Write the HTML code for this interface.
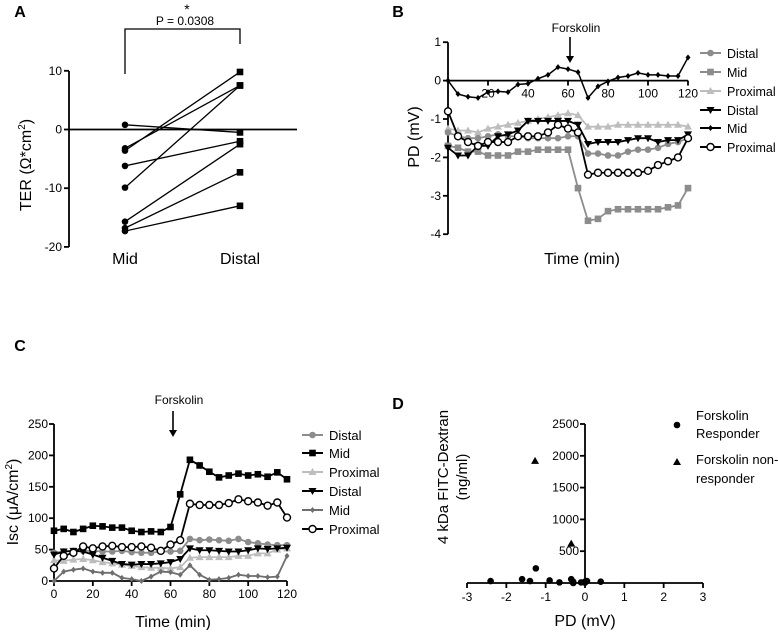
<!DOCTYPE html>
<html><head><meta charset="utf-8"><style>
body{margin:0;background:#fff;width:778px;height:630px;overflow:hidden}
svg{font-family:"Liberation Sans",sans-serif}
</style></head><body>
<svg id="fig" width="778" height="630" viewBox="0 0 778 630" xmlns="http://www.w3.org/2000/svg"></svg>
<script>
// ---- Panel A data ----
const aCats = ["Mid","Distal"];
const aMid = [0.8,-3.2,-3.6,-6.2,-9.9,-15.7,-16.8,-17.3];
const aDistal = [-0.5,7.5,9.8,-2,7.5,-2.5,-7.3,-13];
const aTicks = [10,0,-10,-20];
// ---- Panel B data ----
const bTimes = [0,5,10,15,20,25,30,35,40,45,50,55,60,65,70,75,80,85,90,95,100,105,110,115,120];
const bDistalGray = [-1.35,-1.45,-1.5,-1.5,-1.45,-1.4,-1.45,-1.45,-1.5,-1.5,-1.5,-1.5,-1.45,-1.45,-1.9,-1.9,-1.95,-1.95,-1.85,-1.8,-1.8,-1.75,-1.65,-1.6,-1.5];
const bMidGray = [-1.7,-1.75,-1.85,-1.85,-1.95,-1.95,-1.95,-1.85,-1.85,-1.8,-1.8,-1.8,-1.8,-2.8,-3.65,-3.6,-3.4,-3.35,-3.35,-3.35,-3.35,-3.35,-3.3,-3.25,-2.8];
const bProxLight = [-1.25,-1.3,-1.3,-1.35,-1.25,-1.2,-1.15,-1.1,-1.05,-1.0,-0.95,-0.9,-0.85,-0.9,-1.2,-1.2,-1.2,-1.15,-1.15,-1.15,-1.15,-1.15,-1.15,-1.15,-1.2];
const bDistalBlack = [-1.75,-1.95,-1.95,-1.7,-1.7,-1.45,-1.4,-1.3,-1.05,-1.05,-1.05,-1.05,-1.05,-1.15,-1.65,-1.6,-1.6,-1.6,-1.55,-1.5,-1.5,-1.6,-1.55,-1.55,-1.4];
const bMidBlack = [0,-0.35,-0.42,-0.45,-0.3,-0.28,-0.3,-0.1,-0.08,0.05,0.15,0.35,0.3,0.22,-0.45,-0.15,-0.02,0.08,0.12,0.2,0.15,0.15,0.12,0.12,0.6];
const bProxBlack = [-0.8,-1.45,-1.6,-1.7,-1.6,-1.6,-1.6,-1.45,-1.45,-1.45,-1.35,-1.15,-1.25,-1.35,-2.45,-2.4,-2.4,-2.4,-2.4,-2.4,-2.35,-2.2,-2.1,-2.0,-1.5];
const bYTicks = [1,0,-1,-2,-3,-4];
const bXTicks = [20,40,60,80,100,120];
// ---- Panel C data ----
const cTimes = [0,5,10,15,20,25,30,35,40,45,50,55,60,65,70,75,80,85,90,95,100,105,110,115,120];
const cDistalGray = [45,47,48,48,48,47,47,48,46,45,45,47,47,48,67,65,66,65,64,67,62,60,58,57,57];
const cMidBlack = [80,83,78,83,88,87,85,85,80,78,79,78,86,138,193,184,174,165,168,171,168,170,166,173,162];
const cProxLight = [33,32,34,35,33,30,28,26,24,22,21,21,20,22,37,38,38,38,38,40,40,44,44,50,52];
const cDistalBlack = [42,47,48,47,42,37,32,27,26,27,27,28,30,35,52,49,49,48,47,47,49,52,51,52,53];
const cMidGray = [0,15,18,20,15,13,13,5,3,0,7,15,14,10,25,10,2,3,5,10,8,8,6,7,40];
const cProxBlack = [20,40,45,55,52,55,56,54,54,55,53,48,58,65,123,121,121,121,124,130,127,125,120,125,101];
const cYTicks = [0,50,100,150,200,250];
const cXTicks = [0,20,40,60,80,100,120];
// ---- Panel D data ----
const dRespX = [-2.4,-1.6,-1.4,-1.25,-0.9,-0.65,-0.35,-0.3,-0.1,0.0,0.05,0.4,-0.3,0.0];
const dRespY = [30,60,30,230,40,10,60,20,10,20,30,20,0,5];
const dNonX = [-1.27,-0.35];
const dNonY = [1920,620];
const dXTicks = [-3,-2,-1,0,1,2,3];
const dYTicks = [500,1000,1500,2000,2500];

const svg = document.getElementById('fig');
const NS = 'http://www.w3.org/2000/svg';
function mk(tag, attrs, parent){const e=document.createElementNS(NS,tag);for(const k in attrs)e.setAttribute(k,attrs[k]);(parent||svg).appendChild(e);return e;}
function txt(s,x,y,size,anchor,parent,extra){const e=mk('text',Object.assign({x:x,y:y,'font-size':size,'text-anchor':anchor||'middle',fill:'#000'},extra||{}),parent);e.textContent=s;return e;}
function marker(shape,x,y,color,g){
  let e;
  if(shape==='circle') e=mk('circle',{cx:x,cy:y,r:3.3,fill:color},g);
  else if(shape==='ocircle') e=mk('circle',{cx:x,cy:y,r:3.5,fill:'#fff',stroke:color,'stroke-width':1.4},g);
  else if(shape==='square') e=mk('rect',{x:x-3.3,y:y-3.3,width:6.6,height:6.6,fill:color},g);
  else if(shape==='tri') e=mk('path',{d:`M${x},${y-4}L${x+4},${y+3}L${x-4},${y+3}Z`,fill:color},g);
  else if(shape==='dtri') e=mk('path',{d:`M${x},${y+4}L${x+4},${y-3}L${x-4},${y-3}Z`,fill:color},g);
  else e=mk('path',{d:`M${x},${y-3}L${x+2.5},${y}L${x},${y+3}L${x-2.5},${y}Z`,fill:color},g);
  
  
  return e;
}
function series(xs,ys,sx,sy,color,shape,name,lw){
  const g=mk('g',{});
  
  
  const d=xs.map((t,i)=>(i?'L':'M')+sx(t)+','+sy(ys[i])).join('');
  mk('path',{d:d,fill:'none',stroke:color,'stroke-width':lw||1.8},g);
  xs.forEach((t,i)=>marker(shape,sx(t),sy(ys[i]),color,g));
  return g;
}
function legend(items,x0,ys,size){
  items.forEach((it,i)=>{
    const g=mk('g',{});
    
    
    mk('line',{x1:x0,y1:ys[i],x2:x0+21,y2:ys[i],stroke:it[1],'stroke-width':2},g);
    marker(it[2],x0+10.5,ys[i],it[1],g);
    txt(it[0],x0+27,ys[i]+5,size,'start',g);
  });
}
function arrow(x,y1,y2,name){
  const g=mk('g',{});
  
  
  mk('line',{x1:x,y1:y1,x2:x,y2:y2-5,stroke:'#000','stroke-width':1.6},g);
  mk('path',{d:`M${x-4},${y2-7}L${x+4},${y2-7}L${x},${y2}Z`,fill:'#000'},g);
}
const GRAY='#8c8c8c', LIGHT='#bdbdbd', BLACK='#000';

// ===== Panel A =====
(function(){
  const ay=v=>129.5-v*5.87, ax={Mid:125,Distal:240};
  txt('A',20,17,16,'middle',null,{'font-weight':'bold'});
  mk('line',{x1:69,y1:71,x2:69,y2:247,stroke:'#000','stroke-width':1.8});
  aTicks.forEach(t=>{mk('line',{x1:64,y1:ay(t),x2:69,y2:ay(t),stroke:'#000','stroke-width':1.8});txt(String(t),62,ay(t)+4,12,'end');});
  mk('line',{x1:69,y1:ay(0),x2:297,y2:ay(0),stroke:'#000','stroke-width':1.8});
  aMid.forEach((v,i)=>{
    const g=mk('g',{});
    
    
    mk('line',{x1:ax.Mid,y1:ay(v),x2:ax.Distal,y2:ay(aDistal[i]),stroke:'#000','stroke-width':1.3},g);
    marker('circle',ax.Mid,ay(v),'#000',g);
    marker('square',ax.Distal,ay(aDistal[i]),'#000',g);
  });
  aCats.forEach(c=>txt(c,ax[c],264,16));
  mk('path',{d:'M125,74V29H240V44',fill:'none',stroke:'#000','stroke-width':1.3});
  txt('P = 0.0308',185,25,12);
  txt('*',187,14,14);
  txt('',0,0,16,'middle',null,{transform:'translate(31,165) rotate(-90)'}).innerHTML='TER (Ω*cm<tspan font-size="10" dy="-6">2</tspan><tspan dy="6">)</tspan>';
})();

// ===== Panel B =====
(function(){
  const sx=t=>448+t*2, sy=v=>80.6-v*38.4;
  txt('B',398,17,16,'middle',null,{'font-weight':'bold'});
  mk('line',{x1:448,y1:sy(1),x2:448,y2:sy(-4),stroke:'#000','stroke-width':1.8});
  bYTicks.forEach(t=>{mk('line',{x1:443,y1:sy(t),x2:448,y2:sy(t),stroke:'#000','stroke-width':1.8});txt(String(t),441,sy(t)+4,12,'end');});
  mk('line',{x1:448,y1:sy(0),x2:sx(120),y2:sy(0),stroke:'#000','stroke-width':1.8});
  bXTicks.forEach(t=>{mk('line',{x1:sx(t),y1:sy(0),x2:sx(t),y2:sy(0)+5,stroke:'#000','stroke-width':1.8});txt(String(t),sx(t),sy(0)+17,12);});
  series(bTimes,bProxLight,sx,sy,LIGHT,'tri','series-proximal-gray');
  series(bTimes,bDistalGray,sx,sy,GRAY,'circle','series-distal-gray');
  series(bTimes,bMidGray,sx,sy,GRAY,'square','series-mid-gray');
  series(bTimes,bDistalBlack,sx,sy,BLACK,'dtri','series-distal-black');
  series(bTimes,bMidBlack,sx,sy,BLACK,'diamond','series-mid-black',1.5);
  series(bTimes,bProxBlack,sx,sy,BLACK,'ocircle','series-proximal-black');
  legend([['Distal',GRAY,'circle'],['Mid',GRAY,'square'],['Proximal',LIGHT,'tri'],['Distal',BLACK,'dtri'],['Mid',BLACK,'diamond'],['Proximal',BLACK,'ocircle']],700,[53,72,91,110,128,147],12.5);
  txt('Forskolin',576,32,12);
  arrow(570,37,63,'forskolin-arrow');
  txt('Time (min)',582,264,16);
  txt('PD (mV)',0,0,16,'middle',null,{transform:'translate(419,137) rotate(-90)'});
})();

// ===== Panel C =====
(function(){
  const sx=t=>54+t*(233/120), sy=v=>581-v*(157/250);
  txt('C',20,351,16,'middle',null,{'font-weight':'bold'});
  mk('line',{x1:54,y1:sy(250),x2:54,y2:sy(0),stroke:'#000','stroke-width':1.8});
  mk('line',{x1:54,y1:sy(0),x2:sx(120),y2:sy(0),stroke:'#000','stroke-width':1.8});
  cYTicks.forEach(t=>{mk('line',{x1:49,y1:sy(t),x2:54,y2:sy(t),stroke:'#000','stroke-width':1.8});txt(String(t),48,sy(t)+4,12,'end');});
  cXTicks.forEach(t=>{mk('line',{x1:sx(t),y1:581,x2:sx(t),y2:586,stroke:'#000','stroke-width':1.8});txt(String(t),sx(t),598,12);});
  series(cTimes,cProxLight,sx,sy,LIGHT,'tri','series-proximal-gray');
  series(cTimes,cDistalGray,sx,sy,GRAY,'circle','series-distal-gray');
  series(cTimes,cMidGray,sx,sy,'#6e6e6e','diamond','series-mid-gray');
  series(cTimes,cDistalBlack,sx,sy,BLACK,'dtri','series-distal-black');
  series(cTimes,cMidBlack,sx,sy,BLACK,'square','series-mid-black');
  series(cTimes,cProxBlack,sx,sy,BLACK,'ocircle','series-proximal-black');
  legend([['Distal',GRAY,'circle'],['Mid',BLACK,'square'],['Proximal',LIGHT,'tri'],['Distal',BLACK,'dtri'],['Mid','#6e6e6e','diamond'],['Proximal',BLACK,'ocircle']],302,[435,453,472,491,510,529],13);
  txt('Forskolin',179,404,12);
  arrow(173,411,437,'forskolin-arrow');
  txt('Time (min)',173,627,16);
  txt('',0,0,16,'middle',null,{transform:'translate(18,502) rotate(-90)'}).innerHTML='Isc (μA/cm<tspan font-size="10" dy="-6">2</tspan><tspan dy="6">)</tspan>';
})();

// ===== Panel D =====
(function(){
  const sx=v=>585+v*39.33, sy=v=>583-v*(159/2500);
  txt('D',398,409,16,'middle',null,{'font-weight':'bold'});
  mk('line',{x1:585,y1:sy(2500),x2:585,y2:583,stroke:'#000','stroke-width':1.8});
  mk('line',{x1:sx(-3),y1:583,x2:sx(3),y2:583,stroke:'#000','stroke-width':1.8});
  dYTicks.forEach(t=>{mk('line',{x1:580,y1:sy(t),x2:585,y2:sy(t),stroke:'#000','stroke-width':1.8});txt(String(t),579,sy(t)+4,12,'end');});
  dXTicks.forEach(t=>{mk('line',{x1:sx(t),y1:583,x2:sx(t),y2:588,stroke:'#000','stroke-width':1.8});txt(String(t),sx(t),601,12);});
  const g1=mk('g',{});
  
  
  dRespX.forEach((v,i)=>marker('circle',sx(v),sy(dRespY[i]),'#000',g1));
  const g2=mk('g',{});
  
  
  dNonX.forEach((v,i)=>marker('tri',sx(v),sy(dNonY[i]),'#000',g2));
  const l1=mk('g',{});
  
  
  marker('circle',677,425,'#000',l1);
  txt('Forskolin',696,420,13,'start',l1);txt('Responder',696,438,13,'start',l1);
  const l2=mk('g',{});
  
  
  marker('tri',677,462,'#000',l2);
  txt('Forskolin non-',696,464,13,'start',l2);txt('responder',696,483,13,'start',l2);
  txt('PD (mV)',585,626,16);
  txt('4 kDa FITC-Dextran',0,0,15,'middle',null,{transform:'translate(448,477) rotate(-90)'});
  txt('(ng/ml)',0,0,15,'middle',null,{transform:'translate(467,477) rotate(-90)'});
})();
</script>
</body></html>
